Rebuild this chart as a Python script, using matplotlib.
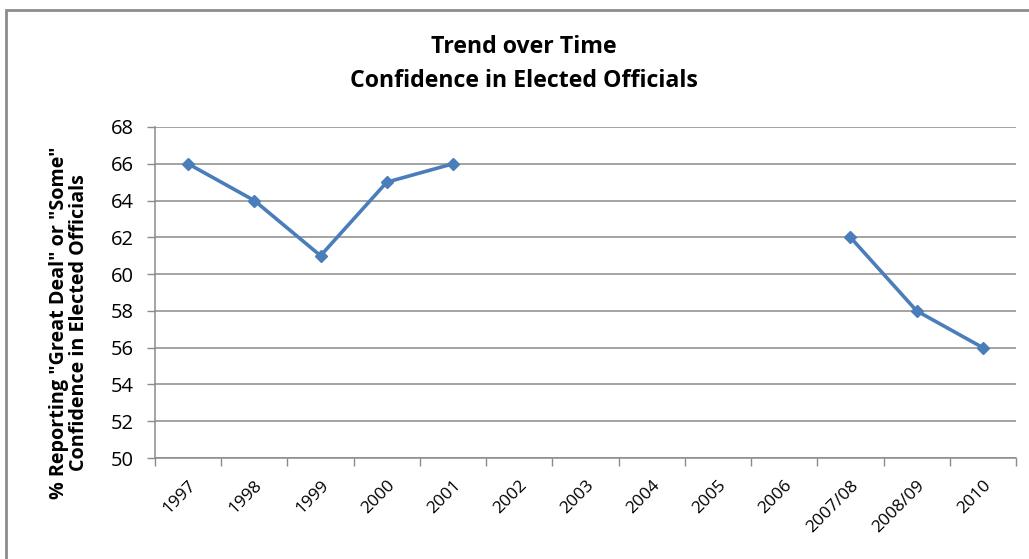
import numpy as np
import matplotlib.pyplot as plt
from matplotlib.patches import Rectangle

# 数据：各年度报告"很大"或"一些"信心的比例（缺失年份为 nan）
years = ['1997', '1998', '1999', '2000', '2001', '2002', '2003', '2004',
         '2005', '2006', '2007/08', '2008/09', '2010']
pct = [66, 64, 61, 65, 66, np.nan, np.nan, np.nan, np.nan, np.nan, 62, 58, 56]
y_ticks = list(range(50, 69, 2))

plt.rcParams['font.family'] = ['Open Sans', 'DejaVu Sans']

fig = plt.figure(figsize=(10.29, 5.59), dpi=100)
ax = fig.add_axes([155 / 1029, 101 / 559, 861 / 1029, 331 / 559])

# 外边框
fig.patches.append(Rectangle((6 / 1029, -0.1), 1.2, (559 - 10) / 559 + 0.1,
                             transform=fig.transFigure, fill=False,
                             edgecolor='#8c8c8c', linewidth=2))

x = np.arange(len(years))
ax.plot(x, pct, color='#4a7ebb', linewidth=2.6, marker='D', markersize=6.5,
        zorder=3)

ax.set_xlim(-0.5, len(years) - 0.5)
ax.set_ylim(50, 68)
ax.set_yticks(y_ticks)
ax.yaxis.grid(True, color='#8a8a8a', linewidth=1.1)
ax.set_axisbelow(True)

# 类别刻度线画在边界上，标签放在中间
ax.set_xticks(np.arange(-0.5, len(years), 1))
ax.set_xticklabels([])
ax.set_xticks(x, minor=True)
ax.set_xticklabels(years, minor=True, rotation=45, ha='right',
                   rotation_mode='anchor', fontsize=12.5)
ax.tick_params(axis='x', which='major', length=6, color='#8a8a8a', width=1)
ax.tick_params(axis='x', which='minor', length=0, pad=14)
ax.tick_params(axis='y', length=6, color='#8a8a8a', width=1, labelsize=14.5,
               pad=9)

for s in ['top', 'right']:
    ax.spines[s].set_visible(False)
for s in ['left', 'bottom']:
    ax.spines[s].set_color('#8a8a8a')
    ax.spines[s].set_linewidth(1.1)

ax.set_ylabel('% Reporting "Great Deal" or "Some"\nConfidence in Elected Officials',
              fontsize=14.2, fontweight='bold', linespacing=1.0)
ax.yaxis.set_label_coords(-0.077, 0.41)

fig.text(0.509, 1 - 47 / 559, 'Trend over Time', ha='center', va='center',
         fontsize=16.7, fontweight='bold')
fig.text(0.509, 1 - 81 / 559, 'Confidence in Elected Officials', ha='center',
         va='center', fontsize=16.7, fontweight='bold')

fig.savefig('out.png', dpi=100)
